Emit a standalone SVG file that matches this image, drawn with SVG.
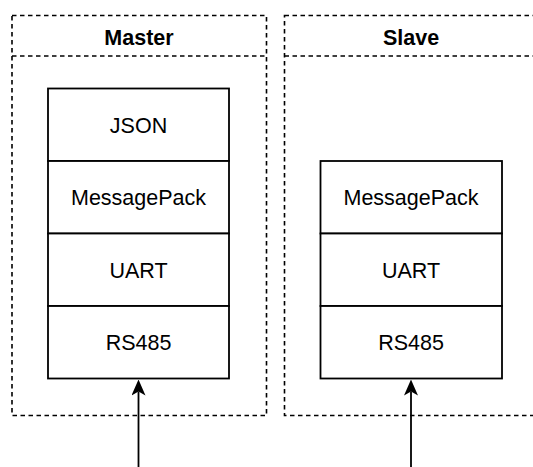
<svg xmlns="http://www.w3.org/2000/svg" width="533" height="467" viewBox="0 0 533 467">
  <style>
    .pool { fill: none; stroke: #000; stroke-width: 1.6; stroke-dasharray: 4.5 3.5; }
    .layer { fill: #fff; stroke: #000; stroke-width: 1.8; }
    .title { font-family: "Liberation Sans", Arial, Helvetica, sans-serif; font-size: 21.5px; font-weight: bold; text-anchor: middle; fill: #000; }
    .label { font-family: "Liberation Sans", Arial, Helvetica, sans-serif; font-size: 21.5px; text-anchor: middle; fill: #000; }
    .wire { fill: none; stroke: #000; stroke-width: 1.8; marker-end: url(#arrow); }
  </style>
  <defs>
    <!-- notched block arrowhead; the reference point sits at the notch -->
    <marker id="arrow" viewBox="0 0 16 14" refX="4" refY="7" markerWidth="16" markerHeight="14" markerUnits="userSpaceOnUse" orient="auto">
      <path d="M16,7 L0,0 L4,7 L0,14 Z" fill="#000"/>
    </marker>
  </defs>
  <rect width="533" height="467" fill="#fff"/>

  <!-- Master container -->
  <g id="master">
    <rect class="pool" x="12" y="15.5" width="254.5" height="400"/>
    <line class="pool" x1="12" y1="56" x2="266.5" y2="56"/>
    <text class="title" x="139" y="45">Master</text>
  </g>

  <!-- Slave container (extends past the right edge) -->
  <g id="slave">
    <rect class="pool" x="284.5" y="15.5" width="253" height="400"/>
    <line class="pool" x1="284.5" y1="56" x2="537.5" y2="56"/>
    <text class="title" x="411" y="45">Slave</text>
  </g>

  <!-- Master protocol stack -->
  <g id="master-json">
    <rect class="layer" x="48" y="88.5" width="181" height="72.5"/>
    <text class="label" x="138.5" y="132.5">JSON</text>
  </g>
  <g id="master-msgpack">
    <rect class="layer" x="48" y="161" width="181" height="72.5"/>
    <text class="label" x="138.5" y="205">MessagePack</text>
  </g>
  <g id="master-uart">
    <rect class="layer" x="48" y="233.5" width="181" height="72.5"/>
    <text class="label" x="138.5" y="277.5">UART</text>
  </g>
  <g id="master-rs485">
    <rect class="layer" x="48" y="306" width="181" height="72.5"/>
    <text class="label" x="138.5" y="350">RS485</text>
  </g>

  <!-- Slave protocol stack -->
  <g id="slave-msgpack">
    <rect class="layer" x="320.5" y="161" width="181.5" height="72.5"/>
    <text class="label" x="411" y="205">MessagePack</text>
  </g>
  <g id="slave-uart">
    <rect class="layer" x="320.5" y="233.5" width="181.5" height="72.5"/>
    <text class="label" x="411" y="277.5">UART</text>
  </g>
  <g id="slave-rs485">
    <rect class="layer" x="320.5" y="306" width="181.5" height="72.5"/>
    <text class="label" x="411" y="350">RS485</text>
  </g>

  <!-- Bus connections -->
  <g id="connectors">
    <line class="wire" x1="138.5" y1="467" x2="138.5" y2="391.5"/>
    <line class="wire" x1="411" y1="467" x2="411" y2="391.5"/>
  </g>
</svg>
